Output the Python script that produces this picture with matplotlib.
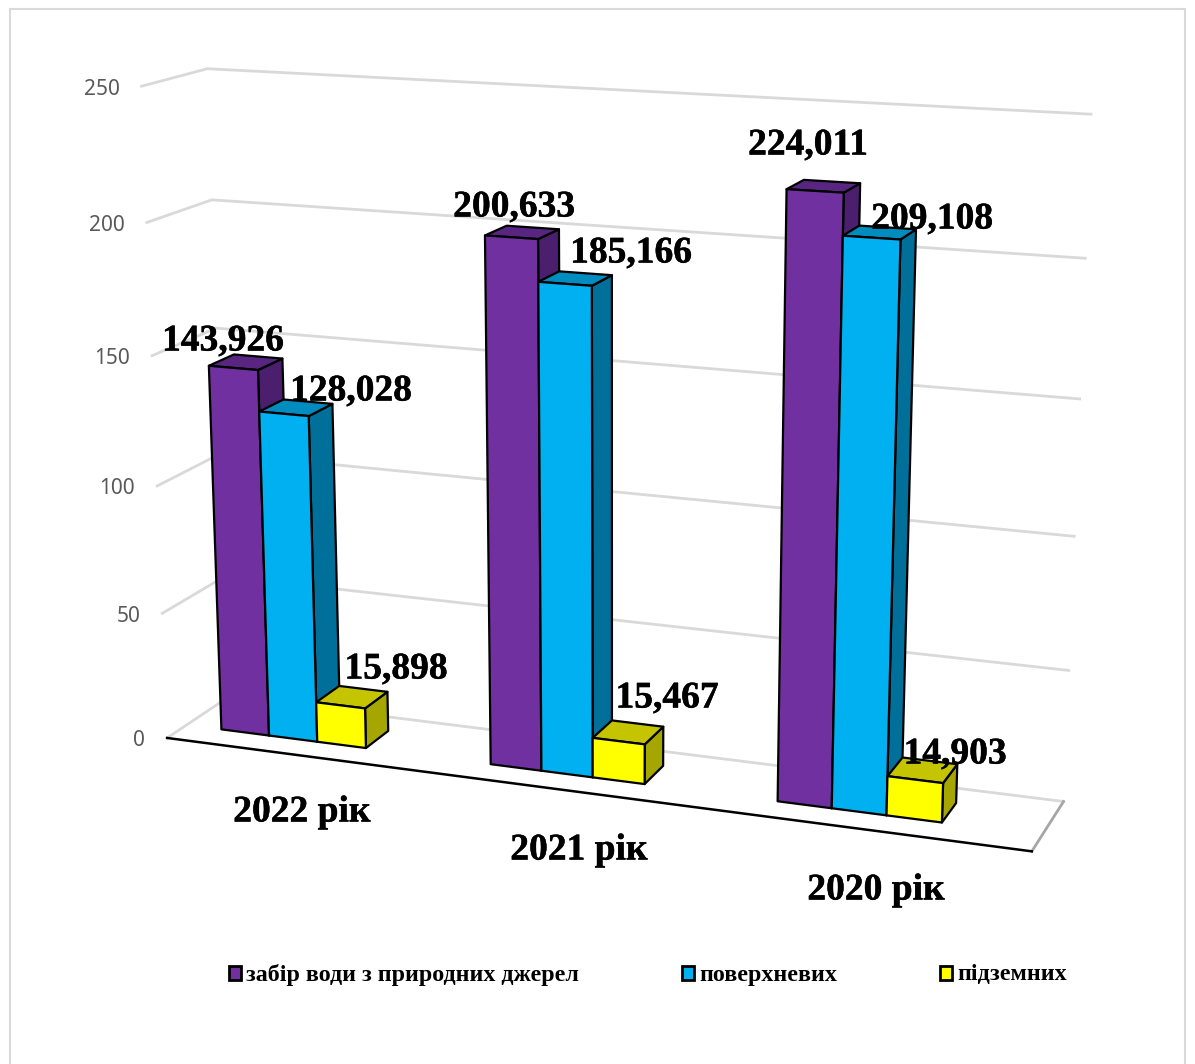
import numpy as np
import matplotlib
matplotlib.use("Agg")
import matplotlib.pyplot as plt
import matplotlib.patheffects as pe
from matplotlib.patches import Polygon, Rectangle

categories = ["2022 рік", "2021 рік", "2020 рік"]
series_names = ["забір води з природних джерел", "поверхневих", "підземних"]
intake = [143.926, 200.633, 224.011]
surface = [128.028, 185.166, 209.108]
ground = [15.898, 15.467, 14.903]
y_ticks = [0, 50, 100, 150, 200, 250]

# scene calibration: (category axis 0-1, value, depth 0-1) -> pixel
anchors = [
    (0, 0, 0, 168, 737), (0, 50, 0, 162, 613), (0, 100, 0, 158, 487),
    (0, 150, 0, 151, 355), (0, 200, 0, 146, 222), (0, 250, 0, 142, 87),
    (0, 250, 1, 208, 69), (0, 200, 1, 212, 199), (0, 0, 1, 228, 698),
    (1, 250, 1, 1091, 114), (1, 200, 1, 1085, 258), (1, 150, 1, 1079, 399),
    (1, 100, 1, 1075, 537), (1, 50, 1, 1069, 671), (1, 0, 1, 1063, 800),
    (1, 0, 0, 1032, 852),
]
A, b = [], []
for X, Y, Z, u, v in anchors:
    A.append([X, Y, Z, 1, 0, 0, 0, 0, -u*X, -u*Y, -u*Z]); b.append(u)
    A.append([0, 0, 0, 0, X, Y, Z, 1, -v*X, -v*Y, -v*Z]); b.append(v)
P = np.append(np.linalg.lstsq(np.array(A, float), np.array(b, float), rcond=None)[0], 1).reshape(3, 4)

def proj(X, Y, Z):
    q = P @ np.array([X, Y, Z, 1.0])
    return q[0] / q[2], q[1] / q[2]

fig = plt.figure(figsize=(11.95, 10.64), dpi=100)
ax = fig.add_axes([0, 0, 1, 1])
ax.set_xlim(0, 1195); ax.set_ylim(1064, 0); ax.axis("off")
ax.add_patch(Rectangle((10, 9), 1175, 1100, fc="white", ec="#D9D9D9", lw=1.5, zorder=0))

SERIF = "Liberation Serif"
GRID = "#D9D9D9"
for t in y_ticks:
    pts = [proj(0, t, 0), proj(0, t, 1), proj(1, t, 1)]
    ax.plot(*zip(*pts), color=GRID, lw=2, zorder=1, solid_joinstyle="miter")
    x0, y0 = proj(0, t, 0)
    ax.text(x0 - 22, y0 + 3, str(t), ha="right", va="center", color="#595959",
            fontsize=15, family="Noto Sans", zorder=1)
ax.plot(*zip(proj(1, 0, 1), proj(1, 0, 0)), color="#A6A6A6", lw=2, zorder=1)
ax.plot(*zip(proj(0, 0, 0), proj(1, 0, 0)), color="black", lw=1.8, zorder=1)

front_colors = ["#7030A0", "#00B0F0", "#FFFF00"]
top_colors = ["#582680", "#008CBF", "#C4C400"]
side_colors = ["#4B1F6E", "#00709A", "#A6A600"]
series = [intake, surface, ground]
bar_w = 0.0605
offset = 0.0445
z0, z1 = 0.31, 0.71

for k in range(3):
    for s in range(3):
        xa = k/3 + offset + s*bar_w
        xb = xa + bar_w
        v = series[s][k]
        faces = [
            ([(xb, 0, z0), (xb, 0, z1), (xb, v, z1), (xb, v, z0)], side_colors[s]),
            ([(xa, v, z0), (xb, v, z0), (xb, v, z1), (xa, v, z1)], top_colors[s]),
            ([(xa, 0, z0), (xb, 0, z0), (xb, v, z0), (xa, v, z0)], front_colors[s]),
        ]
        for pts, c in faces:
            ax.add_patch(Polygon([proj(*p) for p in pts], closed=True, fc=c, ec="black",
                                 lw=1.6, zorder=2, joinstyle="round"))

heavy = [pe.withStroke(linewidth=0.35, foreground="black")]
label_xy = [(223, 341), (351, 391), (396, 669), (514, 207), (631, 253), (667, 698),
            (808, 145), (932, 219), (955, 754)]
vals = [series[s][k] for k in range(3) for s in range(3)]
for (x, y), v in zip(label_xy, vals):
    ax.text(x, y, f"{v:.3f}".replace(".", ","), ha="center", va="center", family=SERIF,
            weight="bold", fontsize=27, color="black", zorder=5, path_effects=heavy)

cat_xy = [(302, 812), (579, 850), (876, 890)]
for (x, y), c in zip(cat_xy, categories):
    ax.text(x, y, c, ha="center", va="center", family=SERIF, weight="bold",
            fontsize=27, color="black", zorder=5, path_effects=heavy)

leg_x = [235, 688, 946]
for x, n, c in zip(leg_x, series_names, front_colors):
    ax.add_patch(Rectangle((x - 6, 966), 12, 14, fc=c, ec="black", lw=2, zorder=5))
    ax.text(x + 11, 975, n, ha="left", va="center", family=SERIF, weight="bold",
            fontsize=17.3, color="black", zorder=5)

fig.savefig("out.png", dpi=100)
